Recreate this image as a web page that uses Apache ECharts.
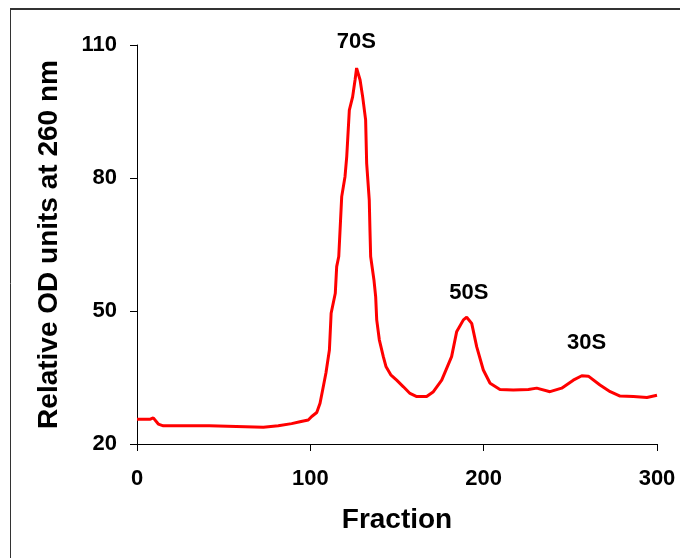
<!DOCTYPE html>
<html>
<head>
<meta charset="utf-8">
<script src="https://cdn.jsdelivr.net/npm/echarts@6/dist/echarts.min.js"></script>
<style>
html,body{margin:0;padding:0;background:#fff;}
#chart{width:680px;height:558px;}
</style>
</head>
<body>
<div id="chart"></div>
<script>
// Data
const fractions = [0, 7.7, 9.4, 12.3, 15.2, 41.7, 42.5, 72.9, 73.5, 81.5, 82, 89.2, 94, 98.8, 100.8, 103.7, 105.6, 107.1, 109, 111, 112, 114.4, 115.2, 116.4, 118.1, 120, 121, 122.5, 124.4, 125.8, 126.7, 127.7, 128.7, 130.2, 131.9, 132.5, 134, 134.4, 134.8, 136.7, 137.7, 138.3, 139.8, 142.1, 143.7, 146.4, 149.8, 153.7, 157.5, 161.4, 167.1, 171, 175.8, 181.5, 184.4, 188.3, 190.2, 193.1, 196, 199.8, 203.7, 209.4, 217.1, 225.8, 230.6, 238.3, 245, 251.7, 256.6, 260.4, 267.1, 273, 278.7, 286.4, 294.2, 300];
const odValues = [25.6, 25.6, 25.9, 24.5, 24.1, 24.1, 23.8, 23.8, 24.1, 24.1, 24.4, 24.6, 25.0, 25.4, 26.2, 27.1, 29.2, 32.2, 36, 41.2, 49.5, 54, 60, 62.3, 75.8, 80.3, 84.8, 95.3, 98.3, 102.1, 104.8, 105, 102.1, 98.3, 93.1, 83.3, 75, 68.3, 62.3, 57, 53.2, 48, 43.5, 39.7, 37.4, 35.6, 34.4, 32.9, 31.4, 30.7, 30.7, 31.8, 34.4, 39.7, 45.3, 48, 48.6, 47.2, 41.9, 36.7, 33.7, 32.3, 32.2, 32.3, 32.6, 31.8, 32.6, 34.4, 35.4, 35.3, 33.3, 31.8, 30.8, 30.7, 30.5, 31.0];
const yTicks = [20, 50, 80, 110];
const xTicks = [0, 100, 200, 300];
const peakNames = ['70S', '50S', '30S'];
const peakLabelX = [126.5, 191.4, 259.4];
const peakLabelY = [110.8, 54.1, 42.8];

const FONT = '"Liberation Sans", Arial, sans-serif';
const chart = echarts.init(document.getElementById('chart'), null, {renderer: 'canvas'});

const lineData = fractions.map((f, i) => [f, odValues[i]]);
const peakData = peakNames.map((n, i) => ({name: n, value: [peakLabelX[i], peakLabelY[i]]}));

chart.setOption({
  animation: false,
  backgroundColor: '#ffffff',
  grid: {left: 137, right: 23, top: 45, bottom: 114, containLabel: false},
  xAxis: {
    type: 'value', min: 0, max: 300, interval: 100,
    name: 'Fraction', nameLocation: 'middle', nameGap: 62,
    nameTextStyle: {fontFamily: FONT, fontWeight: 'bold', fontSize: 28, color: '#000'},
    axisLine: {show: true, onZero: false, lineStyle: {color: '#000', width: 1}},
    axisTick: {show: true, length: 7, inside: false, customValues: xTicks, lineStyle: {color: '#000', width: 1}},
    axisLabel: {fontFamily: FONT, fontWeight: 'bold', fontSize: 22, color: '#000', margin: 24, customValues: xTicks},
    splitLine: {show: false}
  },
  yAxis: {
    type: 'value', min: 20, max: 110,
    name: 'Relative OD units at 260 nm', nameLocation: 'middle', nameGap: 74,
    nameTextStyle: {fontFamily: FONT, fontWeight: 'bold', fontSize: 28, color: '#000'},
    axisLine: {show: true, onZero: false, lineStyle: {color: '#000', width: 1}},
    axisTick: {show: true, length: 7, inside: false, customValues: yTicks, lineStyle: {color: '#000', width: 1}},
    axisLabel: {fontFamily: FONT, fontWeight: 'bold', fontSize: 22, color: '#000', margin: 20, customValues: yTicks},
    splitLine: {show: false}
  },
  series: [
    {
      type: 'line', data: lineData, showSymbol: false, symbol: 'none', smooth: false,
      lineStyle: {color: '#ff0000', width: 3}, silent: true, z: 2
    },
    {
      type: 'scatter', data: peakData, symbolSize: 0, clip: false, silent: true,
      itemStyle: {opacity: 1},
      label: {show: true, position: 'inside', formatter: '{b}', fontFamily: FONT, fontWeight: 'bold', fontSize: 22, color: '#000', opacity: 1},
      z: 3
    }
  ],
  graphic: [
    {type: 'line', shape: {x1: 10, y1: 9, x2: 700, y2: 9}, style: {stroke: '#333', lineWidth: 2}, silent: true},
    {type: 'line', shape: {x1: 10.5, y1: 8, x2: 10.5, y2: 600}, style: {stroke: '#333', lineWidth: 1}, silent: true}
  ]
});
</script>
</body>
</html>
